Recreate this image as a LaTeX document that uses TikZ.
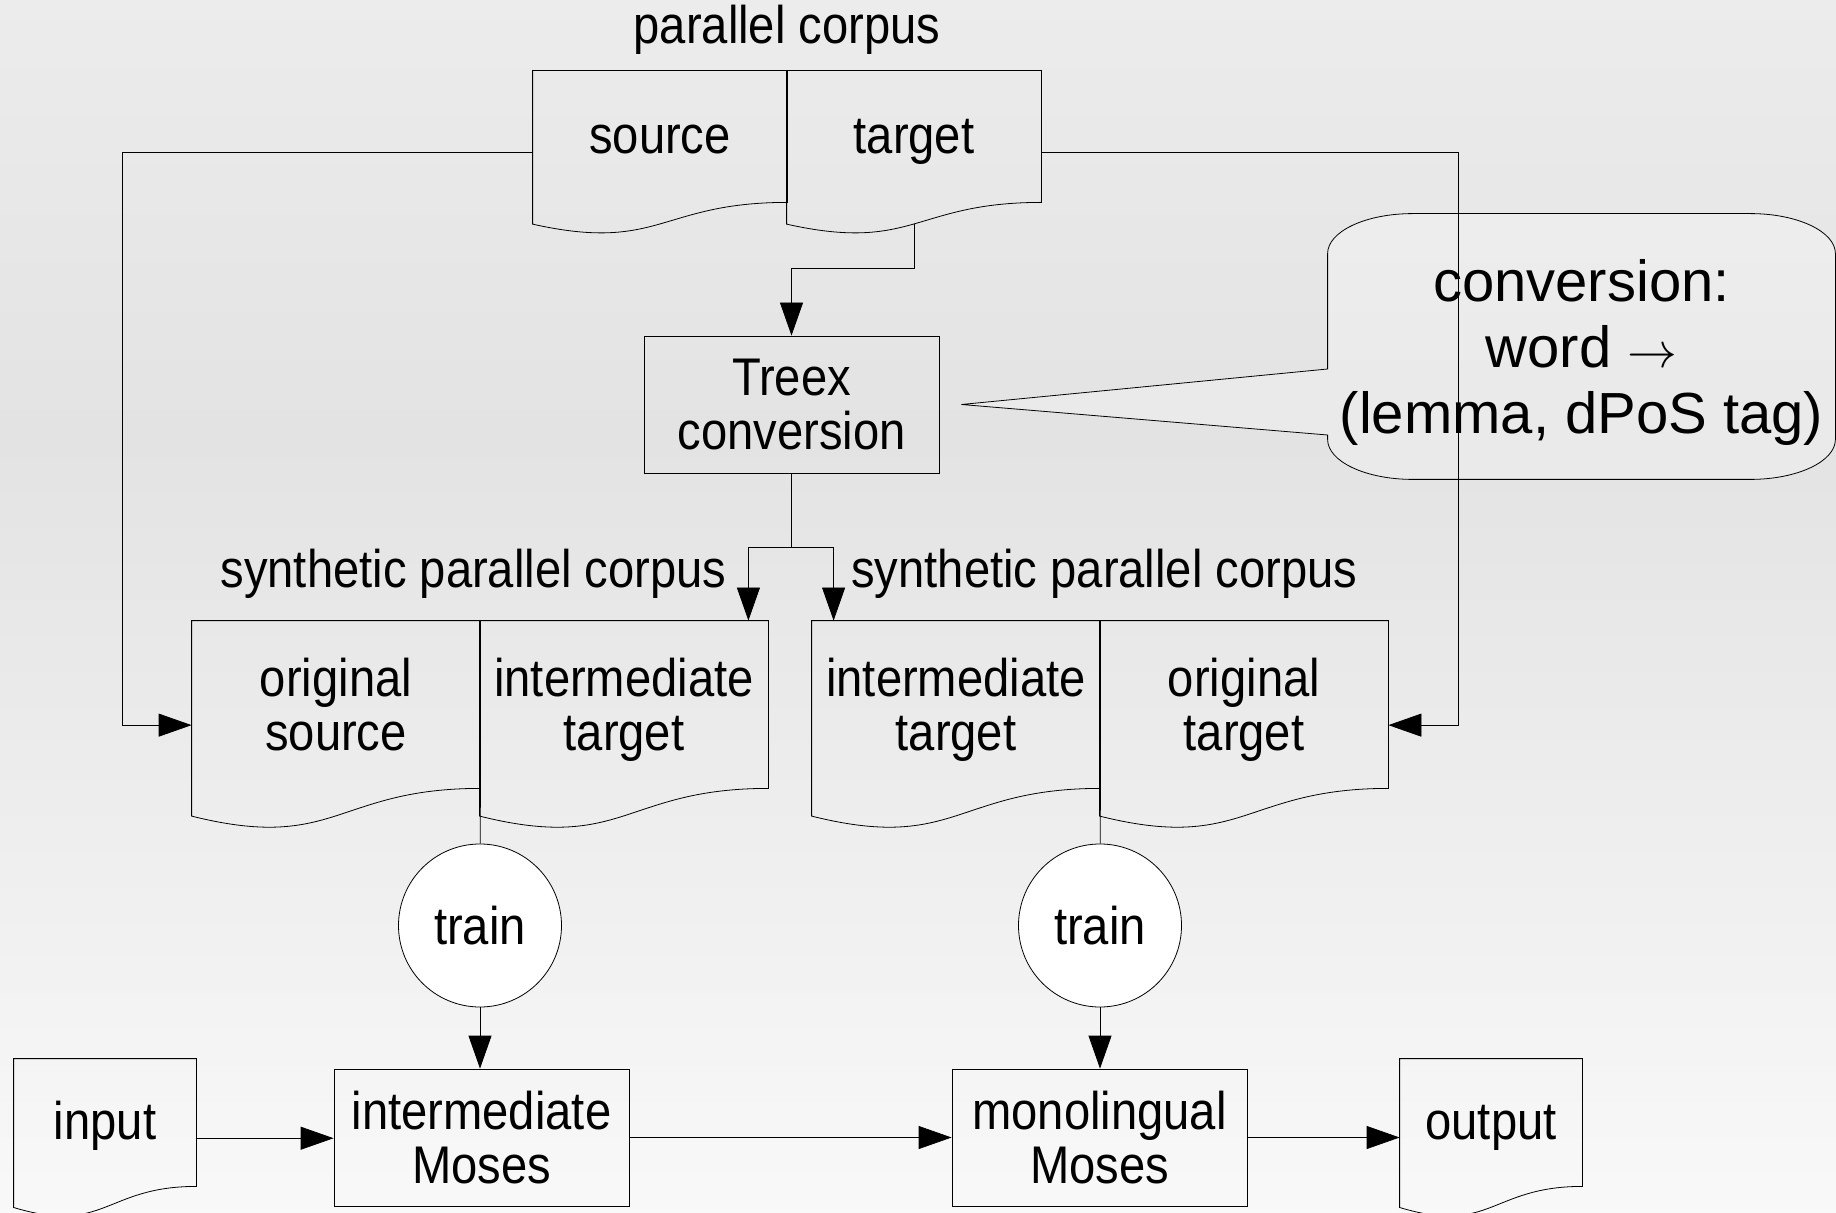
\documentclass[tikz,border=0pt]{standalone}
\usepackage{fontspec}
\setmainfont{Liberation Sans}
\newfontfamily\narrowfont[FakeStretch=0.89]{Liberation Sans}
\usetikzlibrary{calc,arrows.meta}

\definecolor{bgtop}{gray}{0.925}
\definecolor{bgmid}{gray}{0.89}
\definecolor{bgbot}{gray}{0.975}
\pgfdeclareverticalshading{bgshade}{100bp}{color(0bp)=(bgbot); color(25bp)=(bgbot); color(57bp)=(bgmid); color(75bp)=(bgtop); color(100bp)=(bgtop)}
\pgfdeclarelayer{background}
\pgfsetlayers{background,main}

% document outline with wavy bottom, plus side and bottom points
\newcommand{\docshape}[1]{%
	\draw (#1.north west) -- (#1.north east) -- (#1.south east)
		.. controls (#1.south) and ($(#1.south)!-0.381!(#1.north)$)
		.. ($(#1.south west)!-0.165!(#1.north west)$) -- cycle;
	\coordinate (#1-w) at ($(#1.west)!-0.246!(#1.north west)$);
	\coordinate (#1-e) at ($(#1.east)!-0.246!(#1.north east)$);
	\coordinate (#1-b) at ($(#1.south)!-0.163!(#1.north)$);}

\begin{document}
\begin{tikzpicture}[x=0.5pt,y=-0.5pt,line width=0.6pt]
				\tikzstyle{every node}=[font=\narrowfont\fontsize{26.5pt}{26.75pt}\selectfont,inner sep=0pt,align=center]
				\tikzstyle{top doc}=[minimum width=127pt,minimum height=65.5pt,text height=17pt,text depth=0pt]
				\tikzstyle{doc}=[minimum width=144pt,minimum height=83.5pt,text depth=0pt]
				\tikzstyle{io doc}=[minimum width=91pt,minimum height=63.5pt,text height=17pt,text depth=0pt]
				\tikzstyle{process}=[draw,minimum width=147.5pt,minimum height=68.5pt,text depth=0pt]
				\tikzstyle{train node}=[draw,circle,fill=white,minimum size=81.5pt]
				\tikzstyle{flow}=[-{Triangle[length=16.5pt,width=11.5pt]}]
				\useasboundingbox (0,0) rectangle (1836,1213);
				\begin{pgfonlayer}{background}
					\shade[shading=bgshade] (0,0) rectangle (1836,1213);
				\end{pgfonlayer}
				% parallel corpus
				\node (pc) at (787,30) {parallel corpus};
				\node[top doc] (src) at (660,136.5) {source};
				\node[top doc] (tgt) at (914,136.5) {target};
				\docshape{src}
				\docshape{tgt}
				% conversion
				\node[process] (treex) at (791.5,404.5) {Treex\\conversion};
				\node[font=\fontsize{29pt}{33pt}\selectfont,minimum width=253.5pt,minimum height=132.5pt,text depth=0pt] (note) at (1581.5,346.5) {conversion:\\word $\rightarrow$\\(lemma, dPoS tag)};
				\begin{pgfonlayer}{background}
					\draw[fill=white,fill opacity=0.25] ([yshift=-20pt]note.north west) -- ([yshift=-11.25pt]note.west)
						-- ([xshift=11pt]treex.east) -- ([yshift=-44.25pt]note.west)
						-- ([yshift=20pt]note.south west) arc[start angle=180,end angle=270,x radius=42.5pt,y radius=20pt]
						-- ([xshift=-42.5pt]note.south east) arc[start angle=270,end angle=360,x radius=42.5pt,y radius=20pt]
						-- ([yshift=-20pt]note.north east) arc[start angle=0,end angle=90,x radius=42.5pt,y radius=20pt]
						-- ([xshift=42.5pt]note.north west) arc[start angle=90,end angle=180,x radius=42.5pt,y radius=20pt]
						-- cycle;
				\end{pgfonlayer}
				% synthetic corpora
				\node[anchor=east] (synl) at (727,574) {synthetic parallel corpus};
				\node[anchor=west] (synr) at (851,574) {synthetic parallel corpus};
				\node[doc] (osrc) at (336,704.5) {original\\source};
				\node[doc] (itgtl) at (624,704.5) {intermediate\\target};
				\node[doc] (itgtr) at (956,704.5) {intermediate\\target};
				\node[doc] (otgt) at (1244,704.5) {original\\target};
				\foreach \d in {osrc,itgtl,itgtr,otgt} {\docshape{\d}}
				% training and translation
				\node[train node] (trainl) at (480,925.5) {train};
				\node[train node] (trainr) at (1100,925.5) {train};
				\node[io doc] (input) at (105,1122.5) {input};
				\node[process] (imoses) at (481.5,1137.5) {intermediate\\Moses};
				\node[process] (mmoses) at (1099.5,1137.5) {monolingual\\Moses};
				\node[io doc] (output) at (1491,1122.5) {output};
				\docshape{input}
				\docshape{output}
				% connectors
				\draw[flow] (src-w) -- ++(-410,0) |- (osrc-w);
				\draw[flow] (tgt-e) -- ++(417,0) |- (otgt-e);
				\draw[flow] (tgt-b) -- ++(0,45) -| (treex);
				\coordinate (split) at ([yshift=-37pt]treex.south);
				\draw (treex) -- (split);
				\draw[flow] (split) -| ([xshift=-10pt]itgtl.north east);
				\draw[flow] (split) -| ([xshift=11pt]itgtr.north west);
				\draw (osrc.south east) -- (trainl);
				\draw (itgtr.south east) -- (trainr);
				\draw[flow] (trainl) -- (trainl |- imoses.north);
				\draw[flow] (trainr) -- (trainr |- mmoses.north);
				\draw[flow] (input-e) -- (input-e -| imoses.west);
				\draw[flow] (imoses) -- (mmoses);
				\draw[flow] (mmoses) -- (mmoses -| output.west);
\end{tikzpicture}
\end{document}
